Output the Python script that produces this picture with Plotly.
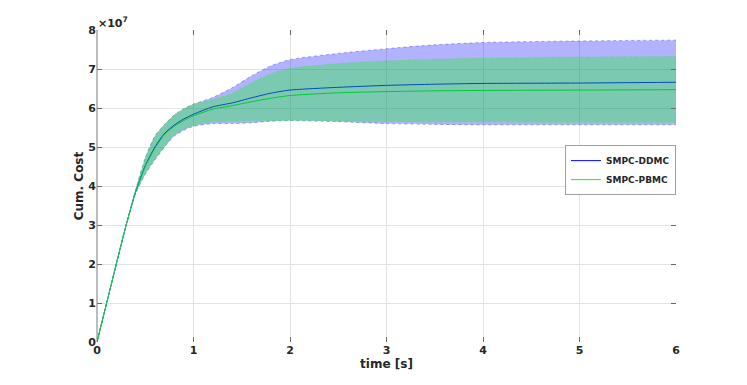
import plotly.graph_objects as go

# time axis [s]
t = [0, 0.1, 0.2, 0.3, 0.4, 0.5, 0.6, 0.7, 0.8, 0.9, 1.0, 1.2, 1.4, 1.6,
     1.8, 2.0, 2.5, 3.0, 3.5, 4.0, 5.0, 6.0]

# cumulative cost, in units of 1e7
ddmc_mean = [0, 1.0, 2.0, 2.98, 3.85, 4.52, 5.0, 5.35, 5.56, 5.72, 5.84, 6.03,
             6.13, 6.26, 6.38, 6.46, 6.53, 6.58, 6.61, 6.63, 6.64, 6.66]
ddmc_upper = [0, 1.0, 2.0, 2.98, 3.9, 4.72, 5.28, 5.58, 5.82, 5.98, 6.1, 6.27,
              6.52, 6.82, 7.08, 7.24, 7.4, 7.52, 7.62, 7.68, 7.72, 7.74]
ddmc_lower = [0, 1.0, 2.0, 2.98, 3.8, 4.3, 4.67, 5.0, 5.28, 5.43, 5.53, 5.6,
              5.6, 5.62, 5.66, 5.68, 5.65, 5.6, 5.58, 5.57, 5.57, 5.57]

pbmc_mean = [0, 1.0, 2.0, 2.98, 3.85, 4.5, 4.97, 5.32, 5.53, 5.68, 5.8, 5.97,
             6.06, 6.16, 6.25, 6.32, 6.39, 6.42, 6.44, 6.45, 6.46, 6.47]
pbmc_upper = [0, 1.0, 2.0, 2.98, 3.9, 4.72, 5.28, 5.58, 5.82, 5.98, 6.1, 6.22,
              6.38, 6.65, 6.88, 7.02, 7.14, 7.21, 7.25, 7.28, 7.31, 7.33]
pbmc_lower = [0, 1.0, 2.0, 2.98, 3.8, 4.3, 4.67, 5.0, 5.3, 5.46, 5.56, 5.64,
              5.66, 5.68, 5.68, 5.68, 5.66, 5.65, 5.64, 5.64, 5.63, 5.63]

x_ticks = [0, 1, 2, 3, 4, 5, 6]
y_ticks = [0, 1, 2, 3, 4, 5, 6, 7, 8]

font = "DejaVu Sans, Arial, sans-serif"
smooth = dict(shape="spline", smoothing=0.6)

fig = go.Figure()

# mean lines first, so the shaded bands sit on top like in the original
fig.add_trace(go.Scatter(x=t, y=ddmc_mean, mode="lines", name="SMPC-DDMC",
                         line=dict(color="#0000ff", width=1, **smooth)))
fig.add_trace(go.Scatter(x=t, y=pbmc_mean, mode="lines", name="SMPC-PBMC",
                         line=dict(color="#00ff00", width=1, **smooth)))

# DDMC band
fig.add_trace(go.Scatter(x=t, y=ddmc_lower, mode="lines", showlegend=False,
                         line=dict(color="rgba(40,40,240,0.5)", width=0.8, dash="dot", **smooth),
                         hoverinfo="skip"))
fig.add_trace(go.Scatter(x=t, y=ddmc_upper, mode="lines", showlegend=False,
                         fill="tonexty", fillcolor="rgba(0,0,255,0.3)",
                         line=dict(color="rgba(40,40,240,0.5)", width=0.8, dash="dot", **smooth),
                         hoverinfo="skip"))

# PBMC band
fig.add_trace(go.Scatter(x=t, y=pbmc_lower, mode="lines", showlegend=False,
                         line=dict(color="rgba(60,240,60,0.5)", width=0.8, dash="dot", **smooth),
                         hoverinfo="skip"))
fig.add_trace(go.Scatter(x=t, y=pbmc_upper, mode="lines", showlegend=False,
                         fill="tonexty", fillcolor="rgba(0,255,0,0.3)",
                         line=dict(color="rgba(60,240,60,0.5)", width=0.8, dash="dot", **smooth),
                         hoverinfo="skip"))

# page body has an 8px margin, so the figure is sized to fit inside it
fig.update_layout(
    width=739, height=377,
    margin=dict(l=89, r=71, t=22, b=43, autoexpand=False),
    paper_bgcolor="white", plot_bgcolor="white",
    font=dict(family=font, size=11, color="#262626"),
    showlegend=True,
    legend=dict(x=1, y=0.631, xanchor="right", yanchor="top",
                bgcolor="white", bordercolor="#a0a0a0", borderwidth=1,
                font=dict(size=9, family=font, weight="bold", color="#262626"),
                traceorder="normal", tracegroupgap=0, itemwidth=30),
)

fig.update_xaxes(
    range=[0, 6], tickvals=x_ticks, ticktext=[str(v) for v in x_ticks],
    automargin=False,
    showgrid=True, gridcolor="#e3e3e3", gridwidth=1,
    zeroline=False, showline=False,
    ticks="inside", ticklen=5, tickcolor="#6a6a6a", mirror="ticks",
    tickfont=dict(size=11, family=font, weight="bold", color="#262626"),
    title=dict(text="time [s]", standoff=3,
               font=dict(size=12, family=font, weight="bold", color="#262626")),
)
fig.update_yaxes(
    range=[0, 8], tickvals=y_ticks, ticktext=[str(v) for v in y_ticks],
    automargin=False,
    showgrid=True, gridcolor="#e3e3e3", gridwidth=1,
    zeroline=False, showline=False,
    ticks="inside", ticklen=5, tickcolor="#6a6a6a", mirror="ticks",
    tickfont=dict(size=11, family=font, weight="bold", color="#262626"),
    title=dict(text="Cum. Cost", standoff=2,
               font=dict(size=12, family=font, weight="bold", color="#262626")),
)

# left axis line only (no box)
fig.add_shape(type="line", xref="paper", yref="paper", x0=0, x1=0, y0=0, y1=1,
              line=dict(color="#7a7a7a", width=1))

# exponent label
fig.add_annotation(text="×10<sup>7</sup>", xref="paper", yref="paper",
                   x=0, y=1, xanchor="left", yanchor="bottom", showarrow=False,
                   xshift=-1, yshift=-2,
                   font=dict(size=11, family=font, weight="bold", color="#262626"))

fig.write_html("out.html")
